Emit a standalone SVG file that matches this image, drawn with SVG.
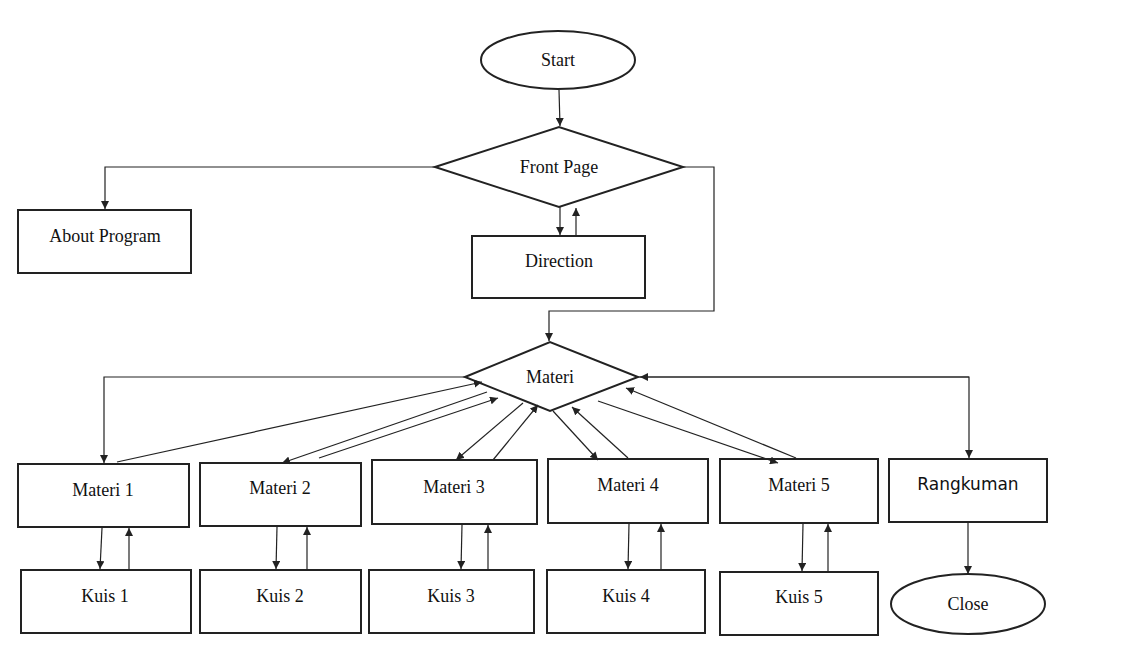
<svg xmlns="http://www.w3.org/2000/svg" width="1133" height="652" viewBox="0 0 1133 652">
<style>
.s{fill:#fff;stroke:#222;stroke-width:2}
.t{font-family:"Liberation Serif",serif;font-size:18px;fill:#111;text-anchor:middle}
.c line,.c polyline{stroke:#222;stroke-width:1.2;fill:none;marker-end:url(#a)}
</style>
<defs><marker id="a" viewBox="0 0 10 10" refX="10" refY="5" markerWidth="8" markerHeight="8" orient="auto" markerUnits="userSpaceOnUse"><path d="M0,0L10,5L0,10z" fill="#222"/></marker></defs>
<rect width="1133" height="652" fill="#fff"/>
<g id="start"><ellipse class="s" cx="558" cy="60" rx="77" ry="29"/><text class="t" x="558" y="66">Start</text></g>
<g id="front"><polygon class="s" points="435,167 559,127 683,167 559,207"/><text class="t" x="559" y="173">Front Page</text></g>
<g id="about"><rect class="s" x="18" y="210" width="173" height="63"/><text class="t" x="105" y="242">About Program</text></g>
<g id="direction"><rect class="s" x="472" y="236" width="173" height="62"/><text class="t" x="559" y="267">Direction</text></g>
<g id="materi"><polygon class="s" points="465,377 550,342 638,377 550,411"/><text class="t" x="550" y="383">Materi</text></g>
<g id="m1"><rect class="s" x="18" y="464" width="171" height="63"/><text class="t" x="103" y="496">Materi 1</text></g>
<g id="m2"><rect class="s" x="200" y="463" width="161" height="63"/><text class="t" x="280" y="494">Materi 2</text></g>
<g id="m3"><rect class="s" x="372" y="460" width="165" height="64"/><text class="t" x="454" y="493">Materi 3</text></g>
<g id="m4"><rect class="s" x="548" y="459" width="160" height="64"/><text class="t" x="628" y="491">Materi 4</text></g>
<g id="m5"><rect class="s" x="720" y="459" width="158" height="64"/><text class="t" x="799" y="491">Materi 5</text></g>
<g id="rk"><rect class="s" x="889" y="459" width="158" height="63"/><text x="968" y="490" style="font-family:'DejaVu Sans',sans-serif;font-size:17px;fill:#111;text-anchor:middle">Rangkuman</text></g>
<g id="k1"><rect class="s" x="21" y="570" width="170" height="63"/><text class="t" x="105" y="602">Kuis 1</text></g>
<g id="k2"><rect class="s" x="200" y="570" width="161" height="63"/><text class="t" x="280" y="602">Kuis 2</text></g>
<g id="k3"><rect class="s" x="369" y="570" width="165" height="63"/><text class="t" x="451" y="602">Kuis 3</text></g>
<g id="k4"><rect class="s" x="547" y="570" width="158" height="63"/><text class="t" x="626" y="602">Kuis 4</text></g>
<g id="k5"><rect class="s" x="720" y="572" width="158" height="63"/><text class="t" x="799" y="603">Kuis 5</text></g>
<g id="close"><ellipse class="s" cx="968" cy="604" rx="77" ry="30"/><text class="t" x="968" y="610">Close</text></g>
<g class="c">
<line x1="559" y1="90" x2="560" y2="126"/>
<polyline points="435,167 105,167 105,209"/>
<line x1="560" y1="207" x2="560" y2="235"/>
<line x1="576" y1="235" x2="576" y2="208"/>
<polyline points="683,167 714,167 714,311 549,311 549,341"/>
<polyline points="465,377 104,377 104,463"/>
<polyline points="638,377 969,377 969,458"/>
<line x1="969" y1="377" x2="640" y2="377"/>
<line x1="968" y1="522" x2="968" y2="574"/>
<line x1="117" y1="462" x2="482" y2="382"/>
<line x1="487" y1="392" x2="282" y2="463"/>
<line x1="319" y1="458" x2="498" y2="398"/>
<line x1="523" y1="403" x2="456" y2="460"/>
<line x1="493" y1="460" x2="538" y2="405"/>
<line x1="553" y1="411" x2="598" y2="460"/>
<line x1="628" y1="458" x2="572" y2="407"/>
<line x1="598" y1="401" x2="778" y2="463"/>
<line x1="796" y1="458" x2="626" y2="388"/>
<line x1="102" y1="528" x2="100" y2="569"/>
<line x1="129" y1="569" x2="129" y2="528"/>
<line x1="277" y1="527" x2="276" y2="569"/>
<line x1="307" y1="569" x2="307" y2="527"/>
<line x1="462" y1="525" x2="461" y2="569"/>
<line x1="488" y1="569" x2="488" y2="525"/>
<line x1="629" y1="524" x2="628" y2="569"/>
<line x1="661" y1="569" x2="661" y2="524"/>
<line x1="803" y1="524" x2="802" y2="571"/>
<line x1="828" y1="571" x2="828" y2="524"/>
</g>
</svg>
